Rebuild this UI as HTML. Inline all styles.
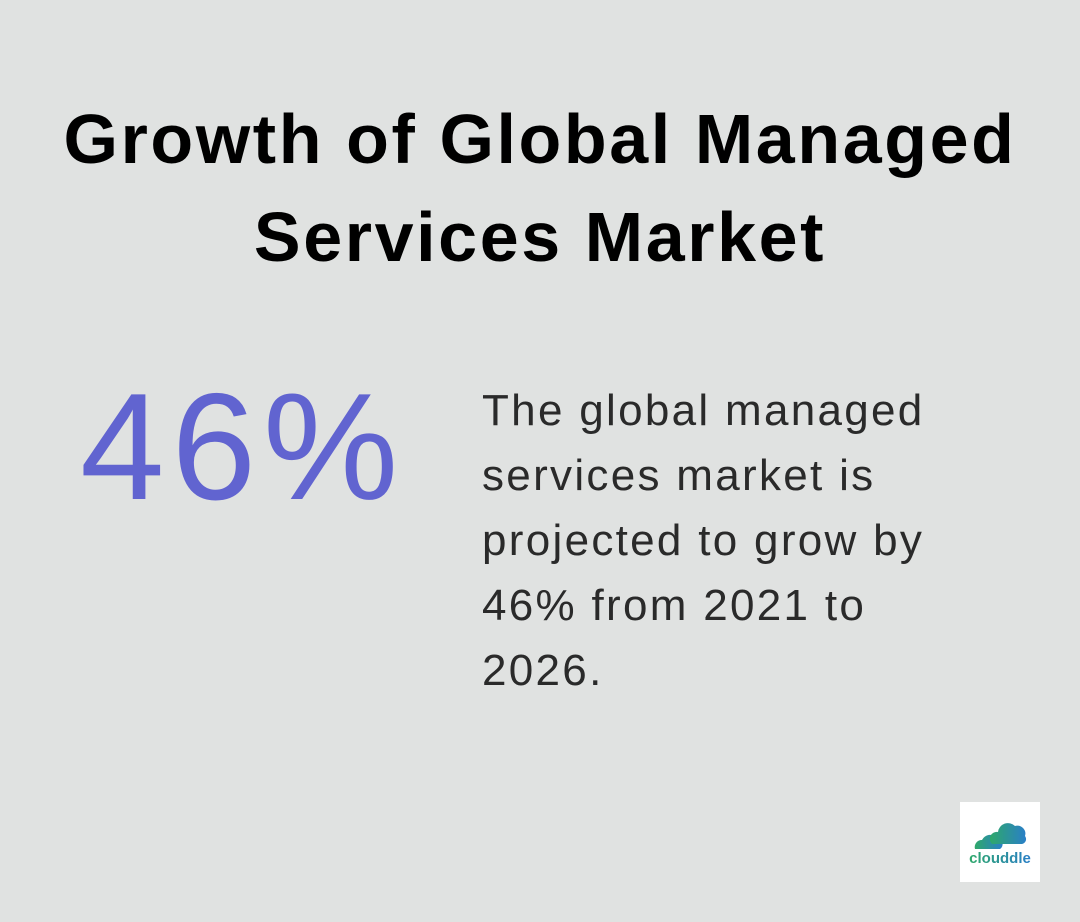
<!DOCTYPE html>
<html><head><meta charset="utf-8"><style>
html,body{margin:0;padding:0}
body{width:1080px;height:922px;background:#e0e2e1;position:relative;overflow:hidden;font-family:"Liberation Sans",sans-serif}
.t{position:absolute;left:0;width:1080px;text-align:center;font-weight:bold;font-size:70px;color:#000;line-height:98px;letter-spacing:2.6px}
.big{position:absolute;left:80px;top:362px;font-size:152px;color:#6164d0;line-height:170px;letter-spacing:7px}
.desc{position:absolute;left:482px;top:378px;font-size:44px;line-height:65px;color:#2a2a2a;width:560px;letter-spacing:2.3px}
.logo{position:absolute;left:960px;top:802px;width:80px;height:80px;background:#fff}
</style></head><body>
<div class="t" style="top:90px">Growth of Global Managed</div>
<div class="t" style="top:188px">Services Market</div>
<div class="big">46%</div>
<div class="desc">The global managed<br>services market is<br>projected to grow by<br>46% from 2021 to<br>2026.</div>
<div class="logo">
<svg width="80" height="80" viewBox="0 0 80 80">
<defs><linearGradient id="g" x1="0" x2="1"><stop offset="0" stop-color="#2ea86a"/><stop offset="1" stop-color="#2a7fc8"/></linearGradient></defs>
<path d="M15 47 a7 7 0 0 1 7-9 a9 9 0 0 1 15-2 a6 6 0 0 1 3 11z" fill="url(#g)"/>
<path d="M32 42 a7 7 0 0 1 6-12 a10 10 0 0 1 17-6 a8 8 0 0 1 10 10 a5 5 0 0 1-3 8z" fill="url(#g)"/>
<text x="40" y="61" text-anchor="middle" font-family="Liberation Sans" font-weight="bold" font-size="15" fill="url(#g)">clouddle</text>
</svg></div>
</body></html>
